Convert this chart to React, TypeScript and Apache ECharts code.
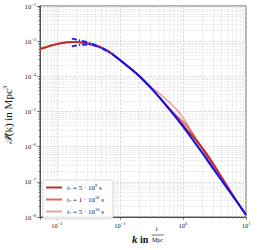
import React, { useEffect, useRef } from "react";
import * as echarts from "echarts";

// Low-k part shared by the three red curves
const kLow = [0.0054, 0.0077, 0.011, 0.018, 0.028, 0.048, 0.069];
const pLow = [6.0e-4, 7.31e-4, 8.61e-4, 9.48e-4, 8.9e-4, 6.84e-4, 4.93e-4];
// High-k part
const kHigh = [0.1, 0.144, 0.21, 0.3, 0.43, 0.62, 0.83, 1.16, 1.55, 2.08, 2.88, 4.16, 6.0, 10];
const pRed5e9 = [2.92e-4, 1.73e-4, 9.62e-5, 5.0e-5, 2.43e-5, 1.11e-5, 6.17e-6, 3.0e-6, 1.67e-6, 8.65e-7, 3.7e-7, 1.3e-7, 4.56e-8, 1.15e-8];
const pRed1e10 = [2.92e-4, 1.73e-4, 9.62e-5, 5.0e-5, 2.43e-5, 1.19e-5, 7.03e-6, 3.9e-6, 1.9e-6, 8.11e-7, 3.04e-7, 1.14e-7, 4.27e-8, 1.15e-8];
const pRed5e10 = [2.92e-4, 1.73e-4, 9.62e-5, 5.33e-5, 3.16e-5, 1.75e-5, 1.04e-5, 4.44e-6, 1.56e-6, 7.6e-7, 3.04e-7, 1.1e-7, 4.27e-8, 1.15e-8];
// Blue reference curve
const kBlue = [0.075, 0.1, 0.144, 0.21, 0.3, 0.43, 0.62, 0.83, 1.16, 1.55, 2.08, 2.88, 4.16, 6.0, 10];
const pBlue = [4.32e-4, 2.92e-4, 1.73e-4, 9.62e-5, 5.0e-5, 2.43e-5, 1.11e-5, 5.77e-6, 2.63e-6, 1.28e-6, 6.24e-7, 2.67e-7, 1.07e-7, 4.27e-8, 1.15e-8];
// Blue dashed curves near the peak
const kDash = [0.0173, 0.0231, 0.0334, 0.0481, 0.0746];
const pDashUp = [1.19e-3, 1.047e-3, 8.89e-4, 6.84e-4, 4.32e-4];
const pDashLo = [7.06e-4, 7.8e-4, 8.05e-4, 6.62e-4, 4.32e-4];

const legendNames = ["r5e9", "r1e10", "r5e10"];
const legendLabels: Record<string, string> = {
  r5e9: "{i|t}{sub|*} = 5 · 10{sup|9} s",
  r1e10: "{i|t}{sub|*} = 1 · 10{sup|10} s",
  r5e10: "{i|t}{sub|*} = 5 · 10{sup|10} s",
};

const FONT = "Liberation Serif";

const zip = (a: number[], b: number[]) => a.map((v, i) => [v, b[i]]);

function expLabel(v: number) {
  const e = Math.log10(v);
  const r = Math.round(e);
  if (Math.abs(e - r) > 1e-6) return "";
  return "{b|10}{s|" + (r < 0 ? "−" + -r : "" + r) + "}";
}

const tickRich = {
  b: { fontSize: 6.5, fontFamily: FONT, color: "#222" },
  s: { fontSize: 4.5, fontFamily: FONT, color: "#222", verticalAlign: "top", padding: [0, 0, 4, 0] },
};

export default function App() {
  const ref = useRef<HTMLDivElement>(null);
  useEffect(() => {
    if (!ref.current) return;
    const chart = echarts.init(ref.current, undefined, { renderer: "svg" });
    const redLine = (name: string, data: number[][], color: string, width: number) => ({
      name,
      type: "line",
      data,
      showSymbol: false,
      symbol: "none",
      smooth: 0.3,
      lineStyle: { color, width },
      itemStyle: { color },
    });
    chart.setOption({
      animation: false,
      grid: { left: 40, right: 11, top: 6, bottom: 33, show: true, borderColor: "#333", borderWidth: 0.8, backgroundColor: "transparent" },
      xAxis: {
        type: "log",
        logBase: 10,
        min: 0.0054,
        max: 10,
        axisLine: { show: true, lineStyle: { color: "#333", width: 0.8 } },
        axisTick: { show: true, inside: false, length: 3, lineStyle: { color: "#333", width: 0.6 } },
        minorTick: { show: true, splitNumber: 9, length: 1.5, lineStyle: { color: "#333", width: 0.5 } },
        splitLine: { show: true, lineStyle: { color: "#cccccc", width: 0.7, type: "dashed" } },
        minorSplitLine: { show: true, lineStyle: { color: "#dedede", width: 0.6, type: "dashed" } },
        axisLabel: { formatter: expLabel, rich: tickRich, margin: 4, showMinLabel: false },
      },
      yAxis: {
        type: "log",
        logBase: 10,
        min: 1e-8,
        max: 1e-2,
        axisLine: { show: true, lineStyle: { color: "#333", width: 0.8 } },
        axisTick: { show: true, inside: false, length: 3, lineStyle: { color: "#333", width: 0.6 } },
        minorTick: { show: true, splitNumber: 9, length: 1.5, lineStyle: { color: "#333", width: 0.5 } },
        splitLine: { show: true, lineStyle: { color: "#cccccc", width: 0.7, type: "dashed" } },
        minorSplitLine: { show: true, lineStyle: { color: "#dedede", width: 0.6, type: "dashed" } },
        axisLabel: { formatter: expLabel, rich: tickRich, margin: 4 },
      },
      legend: {
        data: legendNames,
        orient: "vertical",
        left: 43,
        top: 180,
        icon: "rect",
        itemWidth: 16,
        itemHeight: 2,
        itemGap: 3,
        padding: [3, 9, 3, 3],
        backgroundColor: "rgba(255,255,255,0.85)",
        borderColor: "#cfcfcf",
        borderWidth: 0.8,
        borderRadius: 2,
        formatter: (n: string) => legendLabels[n],
        textStyle: {
          fontSize: 7,
          fontFamily: FONT,
          color: "#222",
          lineHeight: 9,
          rich: {
            i: { fontSize: 7, fontFamily: FONT, fontStyle: "italic" },
            sub: { fontSize: 4.5, fontFamily: FONT, verticalAlign: "bottom" },
            sup: { fontSize: 4.5, fontFamily: FONT, verticalAlign: "top" },
          },
        },
      },
      graphic: [
        {
          type: "text",
          x: 8,
          y: 115,
          rotation: Math.PI / 2,
          style: {
            text: "{p|𝒫̃}(k) in Mpc{s|3}",
            align: "center",
            verticalAlign: "middle",
            font: `11px ${FONT}`,
            fill: "#111",
            rich: {
              p: { fontSize: 11, fontFamily: FONT, fontStyle: "italic", fill: "#111" },
              s: { fontSize: 7, fontFamily: FONT, verticalAlign: "top", padding: [0, 0, 6, 0], fill: "#111" },
            },
          },
        },
        { type: "text", left: 132, top: 233, style: { text: "k", font: `bold italic 11px ${FONT}`, fill: "#111" } },
        { type: "text", left: 140, top: 234, style: { text: "in", font: `bold 10px ${FONT}`, fill: "#111" } },
        { type: "text", left: 155, top: 226, style: { text: "1", font: `6px ${FONT}`, fill: "#111" } },
        { type: "line", shape: { x1: 151.5, y1: 235, x2: 164, y2: 235 }, style: { stroke: "#111", lineWidth: 0.6 } },
        { type: "text", left: 152, top: 236.5, style: { text: "Mpc", font: `6px ${FONT}`, fill: "#111" } },
      ],
      series: [
        redLine("r5e10", zip(kLow.concat(kHigh), pLow.concat(pRed5e10)), "#e8a59c", 1.6),
        redLine("r1e10", zip(kLow.concat(kHigh), pLow.concat(pRed1e10)), "#dc6b62", 1.6),
        redLine("r5e9", zip(kLow.concat(kHigh), pLow.concat(pRed5e9)), "#bf2f2a", 2),
        {
          name: "dashUp", type: "line", data: zip(kDash, pDashUp), showSymbol: false, symbol: "none", smooth: 0.3,
          lineStyle: { color: "#1a1aff", width: 1.8, type: [5, 2, 1.5, 2] },
        },
        {
          name: "dashLo", type: "line", data: zip(kDash, pDashLo), showSymbol: false, symbol: "none", smooth: 0.3,
          lineStyle: { color: "#1a1aff", width: 1.8, type: [5, 2, 1.5, 2] },
        },
        {
          name: "blue", type: "line", data: zip(kBlue, pBlue), showSymbol: false, symbol: "none", smooth: 0.3,
          lineStyle: { color: "#1010f0", width: 2 },
        },
      ],
    });
    return () => chart.dispose();
  }, []);
  return <div ref={ref} style={{ width: 257, height: 250, position: "absolute", left: 0, top: 0 }} />;
}
